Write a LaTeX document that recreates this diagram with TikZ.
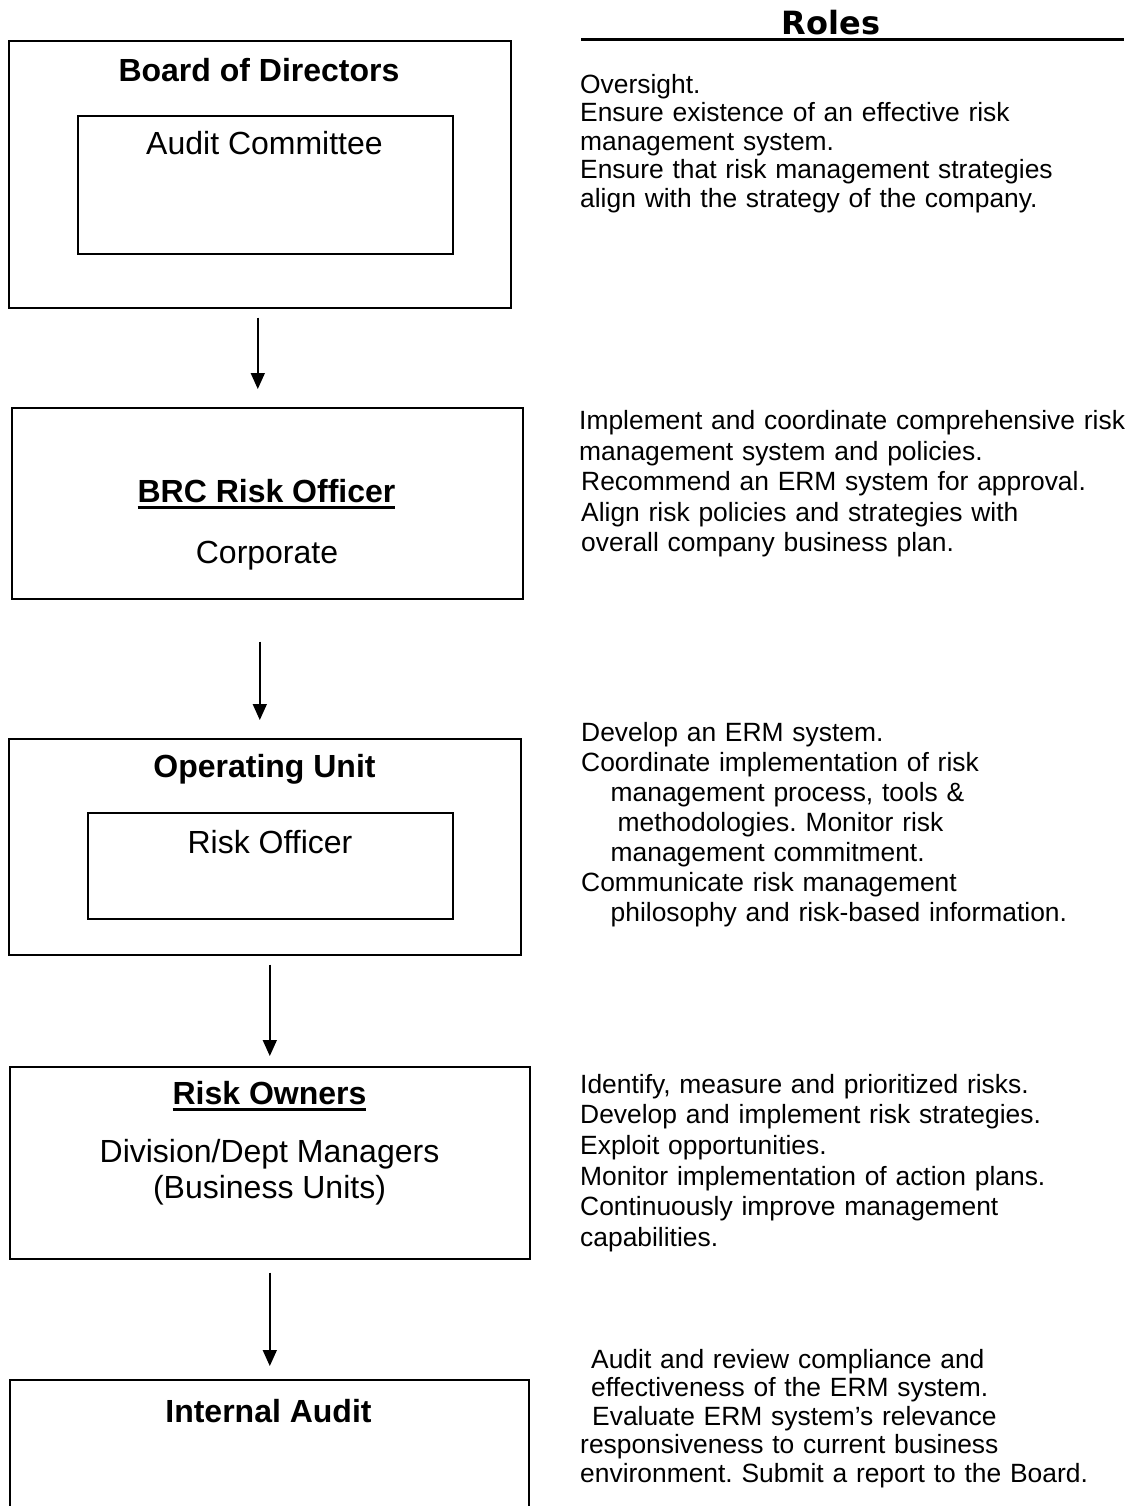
\documentclass[tikz,border=0pt]{standalone}
\usepackage{fontspec}
\setmainfont{Liberation Sans}
\newfontfamily\rolesfont{DejaVu Sans}
\usetikzlibrary{arrows.meta,calc}
\newcommand\myul[1]{\setbox0=\hbox{#1}\rlap{\rule[-6.5pt]{\wd0}{3pt}}\box0}
\frenchspacing
\begin{document}
\begin{tikzpicture}[x=1pt,y=-1pt,
  box/.style={draw=black, line width=1.6pt, inner sep=0pt, anchor=north west},
  title/.style={anchor=base, inner sep=0pt, font=\bfseries\fontsize{32}{37}\selectfont},
  plain/.style={anchor=base, inner sep=0pt, font=\fontsize{32}{37}\selectfont},
  roletext/.style={anchor=north west, inner sep=0pt, align=left, text width=560pt},
  arr/.style={line width=1.6pt, -{Triangle[length=16pt,width=14pt]}}]
\clip (0,0) rectangle (1127,1506);
\fill[white] (0,0) rectangle (1127,1506);

% header
\node[anchor=base, inner sep=0pt, font=\rolesfont\bfseries\fontsize{32}{36}\selectfont] (roles) at (831,35) {Roles};
\draw[line width=2.5pt] (581,39.5) -- (1124,39.5);

% boxes
\node[box, minimum width=502pt, minimum height=267pt] (board) at (8,40) {};
\node[box, minimum width=375pt, minimum height=138pt] (audit) at (77,115) {};
\node[box, minimum width=511pt, minimum height=191pt] (brc) at (11,407) {};
\node[box, minimum width=512pt, minimum height=216pt] (opunit) at (8,738) {};
\node[box, minimum width=365pt, minimum height=106pt] (riskoff) at (87,812) {};
\node[box, minimum width=520pt, minimum height=192pt] (owners) at (9,1066) {};
\node[box, minimum width=519pt, minimum height=170pt] (intaudit) at (9,1379) {};

% box texts
\node[title] (boardT) at (259,82) {Board of Directors};
\node[plain] (auditT) at (264.5,155) {Audit Committee};
\node[title] (brcT) at (266.5,502) {\myul{BRC Risk Officer}};
\node[plain] (brcC) at (267,563) {Corporate};
\node[title] (opT) at (264.5,777) {Operating Unit};
\node[plain] (roT) at (270,853) {Risk Officer};
\node[title] (ownT) at (269.5,1104) {\myul{Risk Owners}};
\node[plain] (ownD) at (269.5,1162) {Division/Dept Managers};
\node[plain] (ownB) at (269.5,1198) {(Business Units)};
\node[title] (iaT) at (268.5,1422) {Internal Audit};

% arrows
\draw[arr] ($(board.south)+(-2,9)$) -- ($(brc.north)+(-9.5,-18)$);
\draw[arr] ($(brc.south)+(-7.5,42)$) -- ($(opunit.north)+(-5,-18)$);
\draw[arr] ($(opunit.south)+(5,9)$) -- ($(owners.north)+(0,-10)$);
\draw[arr] ($(owners.south)+(0,13)$) -- ($(intaudit.north)+(0.5,-13)$);

% roles texts
\node[roletext, font=\fontsize{26.4}{28.5}\selectfont] (r1) at (580,73)
 {\rule{0pt}{20pt}Oversight.\\
  Ensure existence of an effective risk\\
  management system.\\
  Ensure that risk management strategies\\
  align with the strategy of the company.};
\node[roletext, font=\fontsize{26.4}{30.5}\selectfont] (r2) at (579,409.5)
 {\rule{0pt}{20pt}Implement and coordinate comprehensive risk\\
  management system and policies.\\
  \hspace*{2pt}Recommend an ERM system for approval.\\
  \hspace*{2pt}Align risk policies and strategies with\\
  \hspace*{2pt}overall company business plan.};
\node[roletext, font=\fontsize{26.4}{30}\selectfont] (r3) at (581,721)
 {\rule{0pt}{20pt}Develop an ERM system.\\
  Coordinate implementation of risk\\
  \hspace*{29.5pt}management process, tools \&\\
  \hspace*{36.5pt}methodologies. Monitor risk\\
  \hspace*{29.5pt}management commitment.\\
  Communicate risk management\\
  \hspace*{29.5pt}philosophy and risk-based information.};
\node[roletext, font=\fontsize{26.4}{30.6}\selectfont] (r4) at (580,1073)
 {\rule{0pt}{20pt}Identify, measure and prioritized risks.\\
  Develop and implement risk strategies.\\
  Exploit opportunities.\\
  Monitor implementation of action plans.\\
  Continuously improve management\\
  capabilities.};
\node[roletext, font=\fontsize{26.4}{28.5}\selectfont] (r5) at (580,1348)
 {\rule{0pt}{20pt}\hspace*{11pt}Audit and review compliance and\\
  \hspace*{11pt}effectiveness of the ERM system.\\
  \hspace*{12pt}Evaluate ERM system’s relevance\\
  responsiveness to current business\\
  environment. Submit a report to the Board.};
\end{tikzpicture}
\end{document}
